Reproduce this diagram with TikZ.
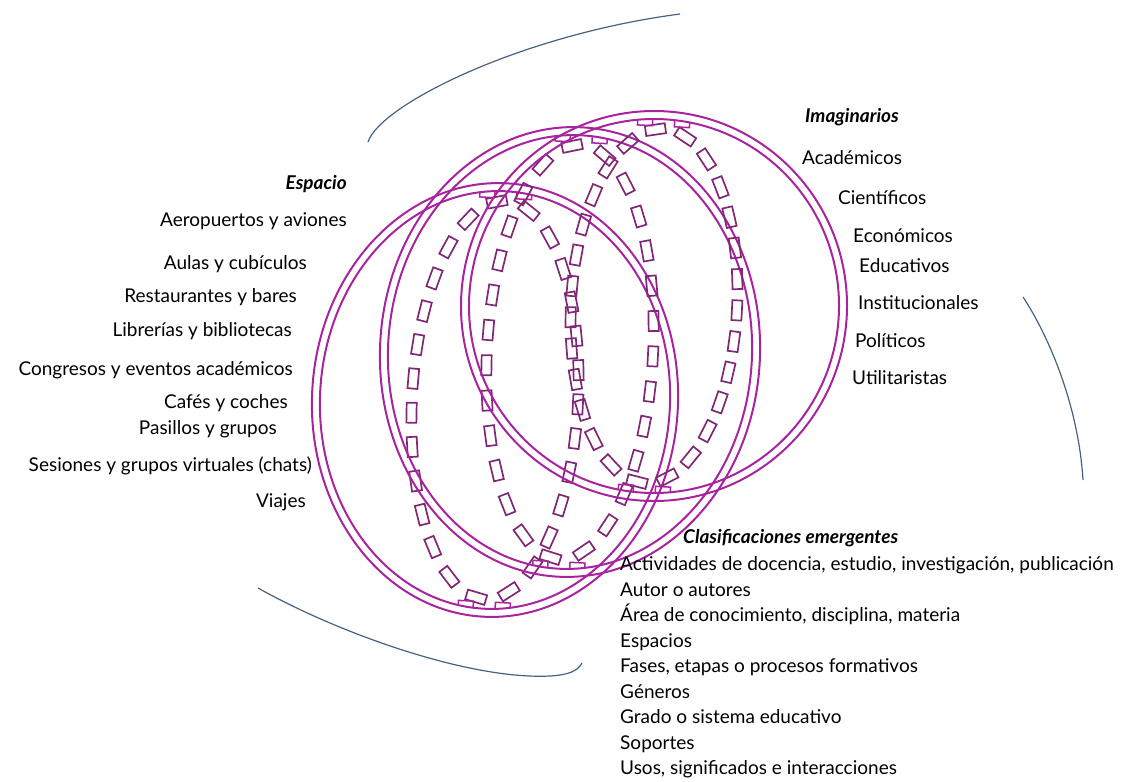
\documentclass[tikz,border=0pt]{standalone}
\usepackage{fontspec}
\setmainfont{Lato}
\usetikzlibrary{decorations.markings}

\definecolor{ringpurple}{RGB}{168,36,158}
\definecolor{linkpurple}{RGB}{128,40,118}
\definecolor{arcblue}{RGB}{70,98,128}

\begin{document}
\begin{tikzpicture}[x=1pt, y=-1pt,
    ring/.style={draw=ringpurple, line width=2pt},
    links/.style={postaction={decorate}, decoration={markings,
        mark=between positions 0 and 0.98 step 0.037037 with
        {\draw[draw=linkpurple, line width=1.7pt] (-10pt,-5pt) rectangle (10pt,5pt);}}},
    lbl/.style={inner sep=0pt, text height=13pt, text depth=4pt,
        font=\fontsize{19}{22}\selectfont},
    hdr/.style={lbl, font=\fontsize{19}{22}\selectfont\bfseries\itshape},
    swirl/.style={draw=arcblue, line width=1.2pt}]
    \useasboundingbox (0,0) rectangle (1125,782);

    % centres of the three rings
    \coordinate (cL) at (495,400);
    \coordinate (cM) at (570,352);
    \coordinate (cR) at (654,306);

    \foreach \c/\rx/\ry in {cL/183/217, cM/190/225, cR/193/195}{
        \pgfmathsetmacro{\ix}{\rx-8}
        \pgfmathsetmacro{\iy}{\ry-8}
        \pgfmathsetmacro{\ky}{\ry-18}
        \begin{scope}[shift={(\c)}, rotate=-3]
            \draw[ring] (0,0) ellipse [x radius=\rx pt, y radius=\ry pt];
            \draw[ring] (0,0) ellipse [x radius=\ix pt, y radius=\iy pt];
            \path[links] (0,0) ellipse [x radius=83pt, y radius=\ky pt];
            \foreach \s in {1,-1}{
                \draw[ring, line width=1.5pt] (-26,\s*\iy-\s*2)--(-26,\s*\iy-\s*7)--(-11,\s*\iy-\s*7)--(-11,\s*\iy);
                \draw[ring, line width=1.5pt] (11,\s*\iy)--(11,\s*\iy-\s*7)--(26,\s*\iy-\s*7)--(26,\s*\iy-\s*2);
            }
        \end{scope}
    }

    % the three swirls round the rings
    \coordinate (topA) at (368,142);
    \coordinate (topB) at (680,14);
    \draw[swirl] (topA) .. controls (380,105) and (520,35) .. (topB);
    \coordinate (rgtA) at (1023,297);
    \coordinate (rgtB) at (1083,480);
    \draw[swirl] (rgtA) .. controls (1045,330) and (1078,400) .. (rgtB);
    \coordinate (botA) at (258,588);
    \coordinate (botB) at (582,663);
    \draw[swirl] (botA) .. controls (340,634) and (470,680) .. (550,676)
        .. controls (568,675) and (578,671) .. (botB);

    % Espacio
    \node[hdr, anchor=east] (espacio) at (347,185) {Espacio};
    \node[lbl, anchor=east] (esp1) at (347,222) {Aeropuertos y aviones};
    \node[lbl, anchor=east] (esp2) at (307,265) {Aulas y cubículos};
    \node[lbl, anchor=east] (esp3) at (297,298) {Restaurantes y bares};
    \node[lbl, anchor=east] (esp4) at (292,332) {Librerías y bibliotecas};
    \node[lbl, anchor=east] (esp5) at (293,371) {Congresos y eventos académicos};
    \node[lbl, anchor=east] (esp6) at (288,404) {Cafés y coches};
    \node[lbl, anchor=east] (esp7) at (277,430) {Pasillos y grupos};
    \node[lbl, anchor=east] (esp8) at (312,467) {Sesiones y grupos virtuales (chats)};
    \node[lbl, anchor=east] (esp9) at (306,503) {Viajes};

    % Imaginarios
    \node[hdr, anchor=west] (imag) at (805,118) {Imaginarios};
    \node[lbl, anchor=west] (imag1) at (802,160) {Académicos};
    \node[lbl, anchor=west] (imag2) at (838,200) {Científicos};
    \node[lbl, anchor=west] (imag3) at (853,238) {Económicos};
    \node[lbl, anchor=west] (imag4) at (859,268) {Educativos};
    \node[lbl, anchor=west] (imag5) at (858,305) {Institucionales};
    \node[lbl, anchor=west] (imag6) at (855,343) {Políticos};
    \node[lbl, anchor=west] (imag7) at (852,380) {Utilitaristas};

    % Clasificaciones emergentes
    \node[hdr, anchor=west] (clas) at (683,539) {Clasificaciones emergentes};
    \foreach \t [count=\i] in {{Actividades de docencia, estudio, investigación, publicación},
        Autor o autores, {Área de conocimiento, disciplina, materia}, Espacios,
        {Fases, etapas o procesos formativos}, Géneros, Grado o sistema educativo,
        Soportes, {Usos, significados e interacciones}}{
        \node[lbl, anchor=west] (clas\i) at (620,540.5+\i*25.5) {\t};
    }
\end{tikzpicture}
\end{document}
